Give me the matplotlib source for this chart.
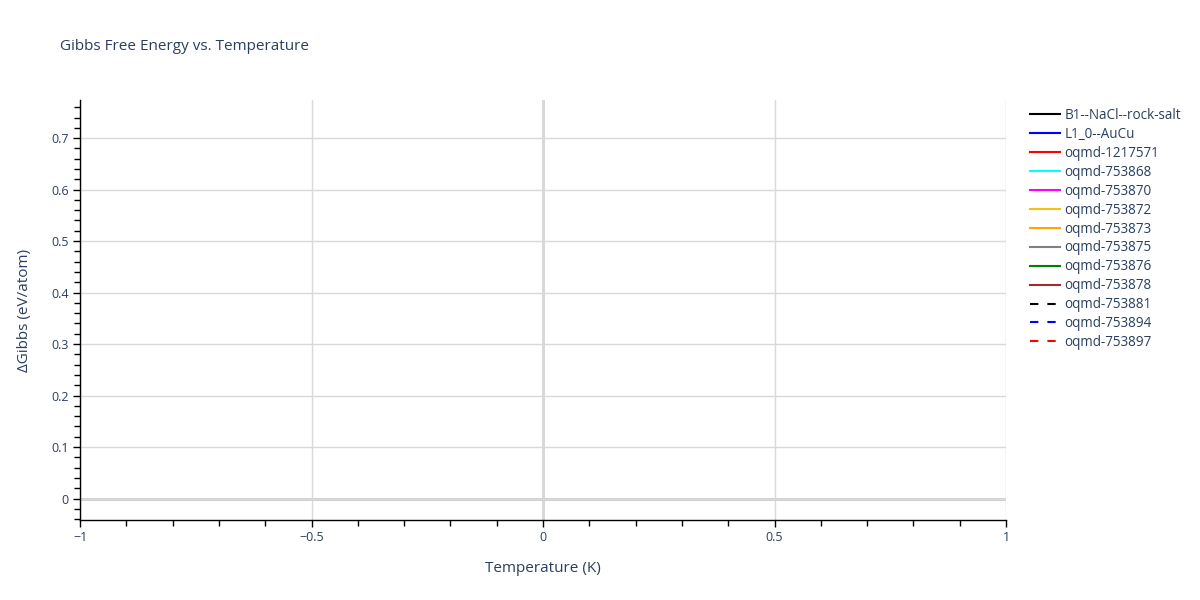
import matplotlib
matplotlib.use("Agg")
import matplotlib.pyplot as plt
from matplotlib.ticker import MultipleLocator, FuncFormatter

plt.rcParams['font.family'] = ['Open Sans', 'DejaVu Sans']
plt.rcParams['lines.scale_dashes'] = False

TEXT = '#2a3f5f'

# Series (no data points visible in the reference chart)
series_names = ['B1--NaCl--rock-salt', 'L1_0--AuCu', 'oqmd-1217571', 'oqmd-753868',
                'oqmd-753870', 'oqmd-753872', 'oqmd-753873', 'oqmd-753875',
                'oqmd-753876', 'oqmd-753878', 'oqmd-753881', 'oqmd-753894',
                'oqmd-753897']
series_colors = ['black', 'blue', 'red', 'cyan', 'magenta', '#f5c00f', 'orange',
                 'grey', 'green', 'brown', 'black', 'blue', 'red']
series_dashed = [False] * 10 + [True] * 3
series_x = [[] for _ in series_names]
series_y = [[] for _ in series_names]

x_range = [-1, 1]
y_range = [-0.0417, 0.774]

fig = plt.figure(figsize=(12, 6), dpi=100)
ax = fig.add_axes([80/1200, 80/600, 926/1200, 420/600])

for name, c, d, xs, ys in zip(series_names, series_colors, series_dashed, series_x, series_y):
    if d:
        ax.plot(xs, ys, color=c, lw=1.5, dashes=(6, 6.5), label=name)
    else:
        ax.plot(xs, ys, color=c, lw=1.5, label=name)

ax.set_xlim(*x_range)
ax.set_ylim(*y_range)

ax.xaxis.set_major_locator(MultipleLocator(0.5))
ax.xaxis.set_minor_locator(MultipleLocator(0.1))
ax.yaxis.set_major_locator(MultipleLocator(0.1))
ax.yaxis.set_minor_locator(MultipleLocator(0.02))

def fmt(v, pos):
    if abs(v) < 1e-9:
        return '0'
    s = ('%g' % round(v, 3))
    return s.replace('-', '\u2212')
ax.xaxis.set_major_formatter(FuncFormatter(fmt))
ax.yaxis.set_major_formatter(FuncFormatter(fmt))

ax.grid(True, which='major', color='#d9d9d9', lw=1)
ax.axhline(0, color='#cccccc', lw=2, zorder=1.5)
ax.axvline(0, color='#cccccc', lw=1.8, zorder=1.5)

for s in ['top', 'right']:
    ax.spines[s].set_visible(False)
for s in ['left', 'bottom']:
    ax.spines[s].set_color('black')
    ax.spines[s].set_linewidth(1)

ax.tick_params(which='both', direction='out', color='black', width=1,
               labelcolor=TEXT, labelsize=9)
ax.tick_params(which='major', length=5, pad=3)
ax.tick_params(which='minor', length=4)

ax.set_xlabel('Temperature (K)', color=TEXT, fontsize=11, labelpad=12)
ax.set_ylabel('\u0394Gibbs (eV/atom)', color=TEXT, fontsize=11, labelpad=14)

fig.text(60/1200, 1 - 46/600, 'Gibbs Free Energy vs. Temperature', color=TEXT,
         fontsize=11, ha='left', va='center')

leg = ax.legend(loc='upper left', bbox_to_anchor=((1030 - 80) / 926, 1 - 8 / 420),
                frameon=False, fontsize=9.75, handlelength=2.23, handletextpad=0.3,
                labelspacing=0.29, borderaxespad=0, borderpad=0)
for t in leg.get_texts():
    t.set_color(TEXT)

fig.savefig('out.png', dpi=100)
